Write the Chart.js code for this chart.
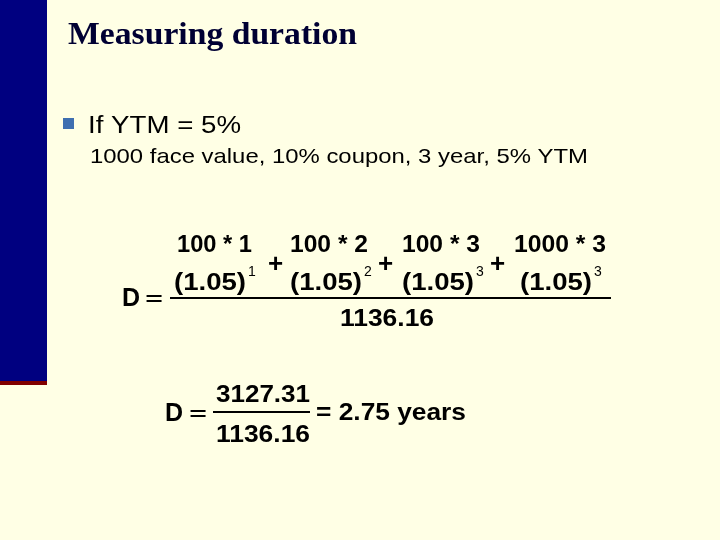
<!DOCTYPE html>
<html><head><meta charset="utf-8">
<script src="https://cdn.jsdelivr.net/npm/chart.js@4"></script>
<style>html,body{margin:0;padding:0;background:#FFFFE5;}canvas{display:block}</style>
</head><body>
<canvas id="c" width="720" height="540"></canvas>
<script>
const title = "Measuring duration";
const bullet = "If YTM = 5%";
const subline = "1000 face value, 10% coupon, 3 year, 5% YTM";
const numerators = ["100 * 1", "100 * 2", "100 * 3", "1000 * 3"];
const periods = [1, 2, 3, 3];
const rate = "(1.05)";
const price = "1136.16";
const weighted = "3127.31";
const result = "= 2.75 years";

function fit(ctx, text, x, y, w) {
  const m = ctx.measureText(text).width;
  ctx.save(); ctx.translate(x, y); ctx.scale(w / m, 1); ctx.fillText(text, 0, 0); ctx.restore();
}
const slide = {
  id: 'slide',
  beforeDraw(chart) {
    const ctx = chart.ctx;
    ctx.save();
    ctx.fillStyle = '#FFFFE5'; ctx.fillRect(0,0,720,540);
    ctx.fillStyle = '#000080'; ctx.fillRect(0,0,47,383);
    ctx.fillStyle = '#800000'; ctx.fillRect(0,381,47,4);
    ctx.fillStyle = '#000033';
    ctx.font = 'bold 32px "Liberation Serif"'; ctx.textBaseline='alphabetic';
    fit(ctx, title, 68, 44, 289);
    ctx.fillStyle = '#3f6fb0'; ctx.fillRect(63,118,11,11);
    ctx.fillStyle = '#000';
    ctx.font = '23px "Liberation Sans"'; fit(ctx, bullet, 88, 133, 153);
    ctx.font = '21px "Liberation Sans"'; fit(ctx, subline, 90, 163, 498);
    // formula 1
    ctx.font = 'bold 25px "Liberation Sans"';
    ctx.fillText("D", 122, 306);
    ctx.font = '24px "DejaVu Serif"'; ctx.fillText("=", 144, 306);
    ctx.fillRect(170,297,441,2);
    const nx = [177, 290, 402, 514];
    const nw = [75, 78, 78, 92];
    const dx = [174, 290, 402, 520];
    const px = [268, 378, 490];
    numerators.forEach((n,i)=>{
      ctx.font = 'bold 24px "Liberation Sans"';
      fit(ctx, n, nx[i], 252, nw[i]);
      fit(ctx, rate, dx[i], 290, 72);
      ctx.font = '14px "Liberation Sans"';
      ctx.fillText(String(periods[i]), dx[i]+74, 276);
    });
    ctx.font = 'bold 26px "Liberation Sans"';
    px.forEach(x=>ctx.fillText("+", x, 272));
    ctx.font = 'bold 24px "Liberation Sans"';
    fit(ctx, price, 340, 326, 94);
    // formula 2
    ctx.font = 'bold 25px "Liberation Sans"';
    ctx.fillText("D", 165, 421);
    ctx.font = '24px "DejaVu Serif"'; ctx.fillText("=", 188, 421);
    ctx.fillRect(213,411,97,2);
    ctx.font = 'bold 24px "Liberation Sans"';
    fit(ctx, weighted, 216, 402, 94);
    fit(ctx, price, 216, 442, 94);
    fit(ctx, result, 316, 420, 150);
    ctx.restore();
  }
};
new Chart(document.getElementById('c'), {
  type: 'bar',
  data: { labels: [], datasets: [{ data: [] }] },
  options: { responsive:false, animation:false, plugins:{legend:{display:false},tooltip:{enabled:false}},
    scales:{x:{display:false},y:{display:false}} },
  plugins: [slide]
});
</script>
</body></html>
